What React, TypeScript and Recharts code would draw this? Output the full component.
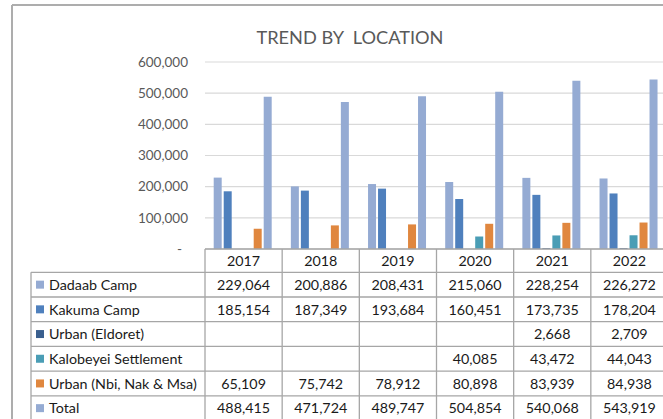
import React from 'react';
import { BarChart, Bar, XAxis, YAxis, CartesianGrid } from 'recharts';

const years = ['2017', '2018', '2019', '2020', '2021', '2022'];
const dadaab = [229064, 200886, 208431, 215060, 228254, 226272];
const kakuma = [185154, 187349, 193684, 160451, 173735, 178204];
const eldoret = [null, null, null, null, 2668, 2709];
const kalobeyei = [null, null, null, 40085, 43472, 44043];
const urbanNbi = [65109, 75742, 78912, 80898, 83939, 84938];
const total = [488415, 471724, 489747, 504854, 540068, 543919];

const seriesKeys = ['dadaab', 'kakuma', 'eldoret', 'kalobeyei', 'urban', 'total'];
const seriesNames = [
  'Dadaab Camp',
  'Kakuma Camp',
  'Urban (Eldoret)',
  'Kalobeyei Settlement',
  'Urban (Nbi, Nak & Msa)',
  'Total',
];
const seriesValues: (number | null)[][] = [dadaab, kakuma, eldoret, kalobeyei, urbanNbi, total];
const seriesColors = ['#95ABD3', '#4F80BD', '#3A5F8E', '#4A9DB5', '#E0873F', '#95ABD3'];
const yTicks = [0, 100000, 200000, 300000, 400000, 500000, 600000];
const title = 'TREND BY  LOCATION';

const data = years.map((year, i) => {
  const row: any = { year };
  seriesKeys.forEach((k, j) => {
    row[k] = seriesValues[j][i];
  });
  return row;
});

const FONT = 'Lato, "Noto Sans", sans-serif';
const CHART_W = 680;
const CHART_H = 430;
const PLOT_LEFT = 205;
const PLOT_RIGHT = 668;
const PLOT_TOP = 62;
const PLOT_BOTTOM = 249;
const Y_AXIS_W = 60;
const COL_W = (PLOT_RIGHT - PLOT_LEFT) / years.length;
const HEADER_H = 23.3;
const ROW_H = 24.7;
const LEGEND_LEFT = 31;
const BORDER = '#A6A6A6';
const TEXT_SIZE = 14.3;

const fmt = (v: number) => v.toLocaleString('en-US');

const YTick = (props: any) => {
  const { x, y, payload } = props;
  const v = payload.value;
  return (
    <text
      x={v === 0 ? x - 6 : x}
      y={y}
      dy={4.8}
      textAnchor="end"
      fill="#595959"
      fontSize={13.5}
      fontFamily={FONT}
    >
      {v === 0 ? '-' : fmt(v)}
    </text>
  );
};

const TableColumn = (props: any) => {
  const { x, y, payload } = props;
  const i = payload.index;
  const left = x - COL_W / 2;
  const right = x + COL_W / 2;
  const top = y;
  const rowsTop = top + HEADER_H;
  const bottom = rowsTop + ROW_H * seriesNames.length + 10;
  const items: React.ReactNode[] = [];

  items.push(<line key="vl" x1={left} x2={left} y1={top} y2={bottom} stroke={BORDER} strokeWidth={1.3} />);
  if (i === years.length - 1) {
    items.push(<line key="vr" x1={right} x2={right} y1={top} y2={bottom} stroke={BORDER} strokeWidth={1.3} />);
  }
  items.push(
    <text key="h" x={x} y={top + HEADER_H / 2 + 5.2} textAnchor="middle" fill="#1a1a1a" fontSize={TEXT_SIZE} fontFamily={FONT}>
      {payload.value}
    </text>
  );
  seriesNames.forEach((_, r) => {
    const rt = rowsTop + r * ROW_H;
    items.push(<line key={'hl' + r} x1={left} x2={right} y1={rt} y2={rt} stroke={BORDER} strokeWidth={1.3} />);
    const v = seriesValues[r][i];
    if (v != null) {
      items.push(
        <text key={'t' + r} x={x} y={rt + ROW_H / 2 + 5.2} textAnchor="middle" fill="#1a1a1a" fontSize={TEXT_SIZE} fontFamily={FONT}>
          {fmt(v)}
        </text>
      );
    }
  });

  if (i === 0) {
    items.push(
      <line key="lvl" x1={LEGEND_LEFT} x2={LEGEND_LEFT} y1={rowsTop} y2={bottom} stroke={BORDER} strokeWidth={1.3} />
    );
    seriesNames.forEach((name, r) => {
      const rt = rowsTop + r * ROW_H;
      items.push(
        <line key={'lhl' + r} x1={LEGEND_LEFT} x2={left} y1={rt} y2={rt} stroke={BORDER} strokeWidth={1.3} />
      );
      items.push(
        <rect key={'lr' + r} x={36} y={rt + ROW_H / 2 - 4} width={8} height={8} fill={seriesColors[r]} />
      );
      items.push(
        <text key={'lt' + r} x={49} y={rt + ROW_H / 2 + 5.2} textAnchor="start" fill="#1a1a1a" fontSize={TEXT_SIZE} fontFamily={FONT}>
          {name}
        </text>
      );
    });
  }
  return <g>{items}</g>;
};

export default function App() {
  return (
    <div
      style={{
        position: 'absolute',
        left: 0,
        top: 0,
        width: 663,
        height: 419,
        overflow: 'hidden',
        background: '#fff',
        fontFamily: FONT,
      }}
    >
      <BarChart
        width={CHART_W}
        height={CHART_H}
        data={data}
        margin={{ top: PLOT_TOP, right: CHART_W - PLOT_RIGHT, left: PLOT_LEFT - Y_AXIS_W, bottom: 0 }}
        barCategoryGap={8.7}
        barGap={2}
      >
        <CartesianGrid horizontal vertical={false} stroke="#D9D9D9" strokeWidth={1.2} />
        <YAxis
          width={Y_AXIS_W}
          domain={[0, 600000]}
          ticks={yTicks}
          axisLine={false}
          tickLine={false}
          tickSize={6}
          tickMargin={11}
          tick={<YTick />}
          interval={0}
        />
        <XAxis
          dataKey="year"
          height={CHART_H - PLOT_BOTTOM}
          axisLine={{ stroke: BORDER, strokeWidth: 1.3 }}
          tickLine={false}
          tickSize={0}
          tickMargin={0}
          interval={0}
          tick={<TableColumn />}
        />
        {seriesKeys.map((k, j) => (
          <Bar key={k} dataKey={k} name={seriesNames[j]} fill={seriesColors[j]} isAnimationActive={false} />
        ))}
      </BarChart>
      <svg
        width={663}
        height={419}
        style={{ position: 'absolute', left: 0, top: 0, pointerEvents: 'none' }}
      >
        <line x1={12} x2={12} y1={5} y2={419} stroke="#ADADAD" strokeWidth={2} />
        <line x1={12} x2={663} y1={5} y2={5} stroke="#ADADAD" strokeWidth={2} />
        <text
          x={350}
          y={43.5}
          textAnchor="middle"
          fill="#595959"
          fontSize={18.2}
          fontFamily={FONT}
          style={{ whiteSpace: 'pre' }}
        >
          {title}
        </text>
      </svg>
    </div>
  );
}
